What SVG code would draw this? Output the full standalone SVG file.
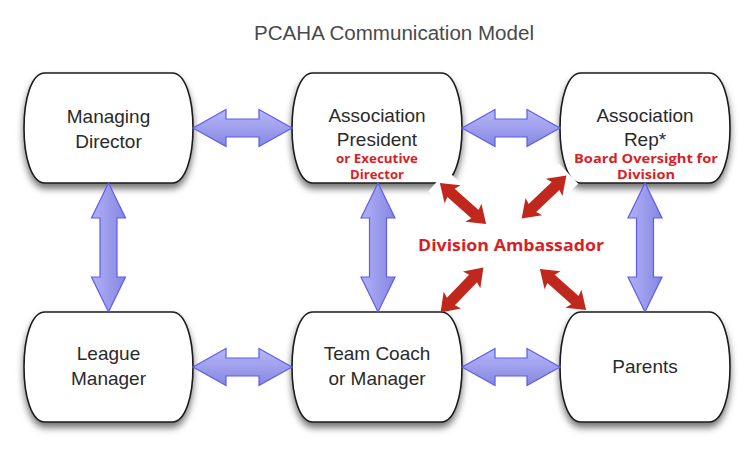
<svg xmlns="http://www.w3.org/2000/svg" width="755" height="455" viewBox="0 0 755 455">
<defs>
<filter id="sh" x="-20%" y="-20%" width="140%" height="150%">
<feDropShadow dx="0" dy="5" stdDeviation="3.5" flood-color="#000" flood-opacity="0.55"/>
</filter>
<linearGradient id="gh" x1="0" y1="0" x2="0" y2="1">
<stop offset="0" stop-color="#b8b8f8"/>
<stop offset="1" stop-color="#8686e2"/>
</linearGradient>
<linearGradient id="gv" x1="0" y1="0" x2="1" y2="0">
<stop offset="0" stop-color="#b0b0f6"/>
<stop offset="1" stop-color="#8686e2"/>
</linearGradient>
<path id="ra" d="M -31,0 L -14,-12 L -16,-5.5 L 16,-5.5 L 14,-12 L 31,0 L 14,12 L 16,5.5 L -16,5.5 L -14,12 Z"/>
</defs>
<style>
.box{fill:#fff;stroke:#1a1a1a;stroke-width:1.6;filter:url(#sh)}
.t{font-family:"Liberation Sans",Arial,sans-serif;font-size:19px;fill:#2a2a2a;text-anchor:middle}
.r{font-family:"Open Sans","Liberation Sans",sans-serif;font-weight:700;font-size:12px;fill:#d81e27;text-anchor:middle}
.bh{fill:url(#gh);stroke:#5c5cec;stroke-width:1.2}
.bv{fill:url(#gv);stroke:#5c5cec;stroke-width:1.2}
.red{fill:#c0281e}
.wb{fill:#fff}
</style>
<rect width="755" height="455" fill="#fff"/>
<text x="394" y="40" font-family="Liberation Sans, Arial, sans-serif" font-size="20" fill="#4a4a4a" text-anchor="middle" textLength="280" lengthAdjust="spacingAndGlyphs">PCAHA Communication Model</text>

<g id="managing-director">
<path class="box" d="M 45,73 H 172 C 186,73 193,100 193,128 C 193,156 186,183 172,183 H 45 C 31,183 24,156 24,128 C 24,100 31,73 45,73 Z"/>
<text class="t" x="108.5" y="123">Managing</text>
<text class="t" x="108.5" y="148">Director</text>
</g>
<g id="association-president">
<path class="box" d="M 313,73 H 441 C 455,73 462,100 462,128 C 462,156 455,183 441,183 H 313 C 299,183 292,156 292,128 C 292,100 299,73 313,73 Z"/>
<text class="t" x="377" y="122">Association</text>
<text class="t" x="377" y="146">President</text>
<text class="r" x="377" y="163" textLength="82" lengthAdjust="spacingAndGlyphs">or Executive</text>
<text class="r" x="377" y="179" textLength="54" lengthAdjust="spacingAndGlyphs">Director</text>
</g>
<g id="association-rep">
<path class="box" d="M 581,73 H 709 C 723,73 730,100 730,128 C 730,156 723,183 709,183 H 581 C 567,183 560,156 560,128 C 560,100 567,73 581,73 Z"/>
<text class="t" x="645" y="122">Association</text>
<text class="t" x="645" y="146">Rep*</text>
<text class="r" x="646" y="163" textLength="144" lengthAdjust="spacingAndGlyphs">Board Oversight for</text>
<text class="r" x="646" y="179" textLength="58" lengthAdjust="spacingAndGlyphs">Division</text>
</g>
<g id="league-manager">
<path class="box" d="M 45,312 H 172 C 186,312 193,339 193,367 C 193,395 186,422 172,422 H 45 C 31,422 24,395 24,367 C 24,339 31,312 45,312 Z"/>
<text class="t" x="108.5" y="360">League</text>
<text class="t" x="108.5" y="385">Manager</text>
</g>
<g id="team-coach">
<path class="box" d="M 313,312 H 441 C 455,312 462,339 462,367 C 462,395 455,422 441,422 H 313 C 299,422 292,395 292,367 C 292,339 299,312 313,312 Z"/>
<text class="t" x="377" y="360">Team Coach</text>
<text class="t" x="377" y="385">or Manager</text>
</g>
<g id="parents">
<path class="box" d="M 581,312 H 709 C 723,312 730,339 730,367 C 730,395 723,422 709,422 H 581 C 567,422 560,395 560,367 C 560,339 567,312 581,312 Z"/>
<text class="t" x="645" y="373">Parents</text>
</g>
<g id="division-ambassador">
<text x="511" y="251" font-family="Open Sans, Liberation Sans, sans-serif" font-weight="700" font-size="16.5" fill="#d81e27" text-anchor="middle" textLength="186" lengthAdjust="spacingAndGlyphs">Division Ambassador</text>
</g>

<g id="connectors">
<path class="bh" d="M 193,128 L 226,109.5 L 226,119 L 259,119 L 259,109.5 L 292,128 L 259,146.5 L 259,137 L 226,137 L 226,146.5 Z"/>
<path class="bh" d="M 462,128 L 495,109.5 L 495,119 L 527,119 L 527,109.5 L 560,128 L 527,146.5 L 527,137 L 495,137 L 495,146.5 Z"/>
<path class="bh" d="M 193,367 L 226,348.5 L 226,358 L 259,358 L 259,348.5 L 292,367 L 259,385.5 L 259,376 L 226,376 L 226,385.5 Z"/>
<path class="bh" d="M 462,367 L 495,348.5 L 495,358 L 527,358 L 527,348.5 L 560,367 L 527,385.5 L 527,376 L 495,376 L 495,385.5 Z"/>
<path class="bv" d="M 108.5,183 L 125.5,218 L 117,218 L 117,277 L 125.5,277 L 108.5,312 L 91.5,277 L 100,277 L 100,218 L 91.5,218 Z"/>
<path class="bv" d="M 378,183 L 395,218 L 386.5,218 L 386.5,277 L 395,277 L 378,312 L 361,277 L 369.5,277 L 369.5,218 L 361,218 Z"/>
<path class="bv" d="M 645,183 L 662,218 L 653.5,218 L 653.5,277 L 662,277 L 645,312 L 628,277 L 636.5,277 L 636.5,218 L 628,218 Z"/>
<g transform="translate(463,203.5) rotate(41.7)">
<rect class="wb" x="-34" y="-14" width="68" height="28"/>
<use href="#ra" class="red"/>
</g>
<g transform="translate(544,197) rotate(-43.7)">
<rect class="wb" x="-34" y="-14" width="68" height="28"/>
<use href="#ra" class="red"/>
</g>
<g transform="translate(462,290) rotate(-46.3)">
<use href="#ra" class="red"/>
</g>
<g transform="translate(563,289.5) rotate(41.7)">
<use href="#ra" class="red"/>
</g>
</g>
</svg>
